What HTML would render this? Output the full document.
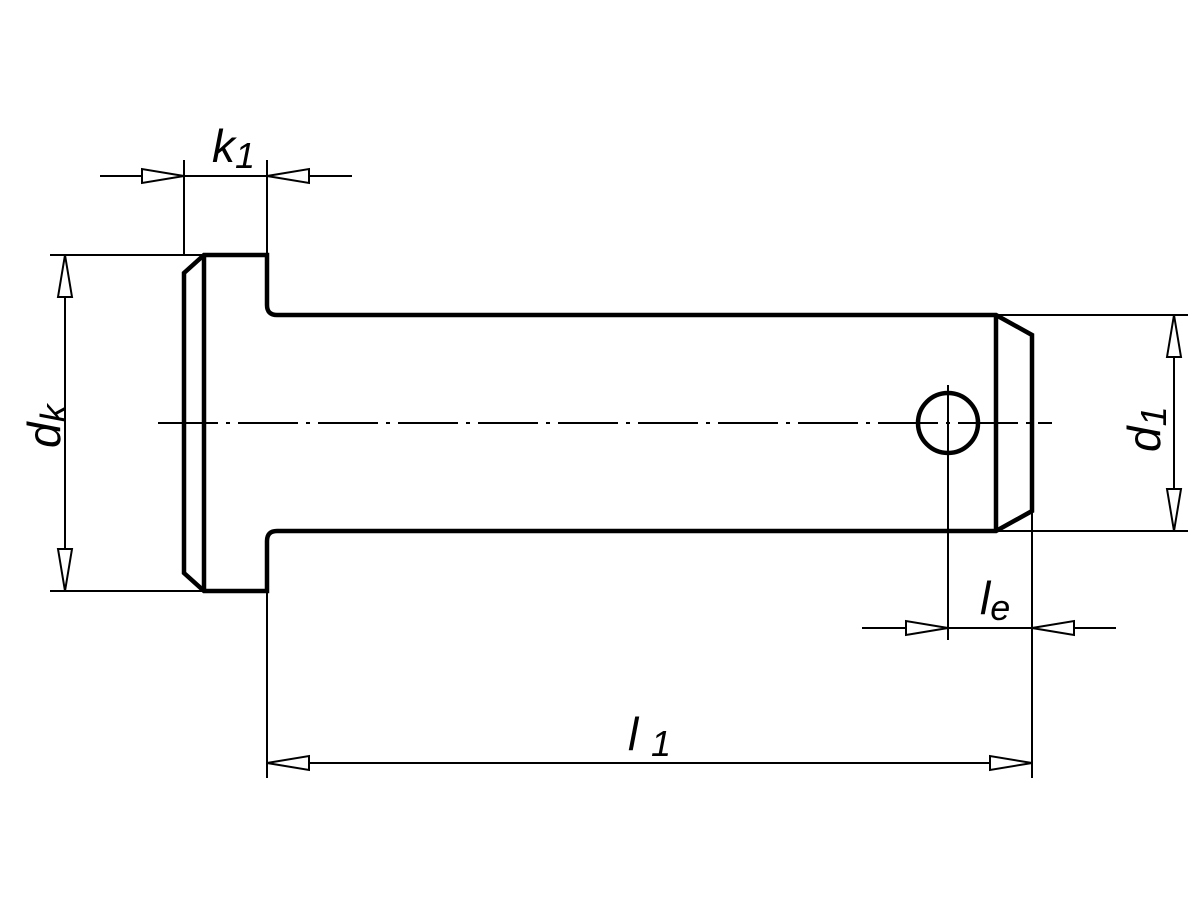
<!DOCTYPE html>
<html><head><meta charset="utf-8"><style>html,body{margin:0;padding:0;background:#fff}svg{display:block}</style></head><body>
<svg width="1200" height="900" viewBox="0 0 1200 900" xmlns="http://www.w3.org/2000/svg">
<rect width="1200" height="900" fill="#fff"/>
<g fill="none" stroke="#000" stroke-width="4.5" stroke-linejoin="miter">
<path d="M204,255 L267,255 L267,305 Q267,315 277,315 L996,315 L1032,335 L1032,511 L996,531 L277,531 Q267,531 267,541 L267,591 L204,591 L184,573 L184,273 Z"/>
<line x1="204" y1="255" x2="204" y2="591"/>
<line x1="996" y1="315" x2="996" y2="531"/>
<circle cx="948" cy="423" r="30"/>
</g>
<g fill="none" stroke="#000" stroke-width="2">
<line x1="158" y1="423" x2="1052" y2="423" stroke-dasharray="60,8,4,8"/>
<line x1="948" y1="385" x2="948" y2="640"/>
<line x1="100" y1="176" x2="352" y2="176"/>
<line x1="184" y1="160" x2="184" y2="255"/>
<line x1="267" y1="160" x2="267" y2="255"/>
<line x1="65" y1="255" x2="65" y2="591"/>
<line x1="50" y1="255" x2="204" y2="255"/>
<line x1="50" y1="591" x2="204" y2="591"/>
<line x1="1174" y1="315" x2="1174" y2="531"/>
<line x1="996" y1="315" x2="1188" y2="315"/>
<line x1="996" y1="531" x2="1188" y2="531"/>
<line x1="862" y1="628" x2="1116" y2="628"/>
<line x1="1032" y1="511" x2="1032" y2="778"/>
<line x1="267" y1="591" x2="267" y2="778"/>
<line x1="267" y1="763" x2="1032" y2="763"/>
</g>
<g fill="#fff" stroke="#000" stroke-width="2">
<polygon points="184,176 142,169 142,183"/>
<polygon points="267,176 309,169 309,183"/>
<polygon points="65,255 58,297 72,297"/>
<polygon points="65,591 58,549 72,549"/>
<polygon points="1174,315 1167,357 1181,357"/>
<polygon points="1174,531 1167,489 1181,489"/>
<polygon points="948,628 906,621 906,635"/>
<polygon points="1032,628 1074,621 1074,635"/>
<polygon points="267,763 309,756 309,770"/>
<polygon points="1032,763 990,756 990,770"/>
</g>
<g font-family="Liberation Sans, sans-serif" fill="#000" font-style="italic">
<text x="212" y="162" font-size="46">k<tspan font-size="36" dy="6">1</tspan></text>
<text x="980" y="614" font-size="46">l<tspan font-size="36" dy="6">e</tspan></text>
<text x="628" y="750" font-size="46">l <tspan font-size="36" dy="6">1</tspan></text>
<text transform="translate(60,448) rotate(-90)" font-size="46">d<tspan font-size="36" dy="6">k</tspan></text>
<text transform="translate(1160,452) rotate(-90)" font-size="46">d<tspan font-size="36" dy="6">1</tspan></text>
</g>
</svg>
</body></html>
